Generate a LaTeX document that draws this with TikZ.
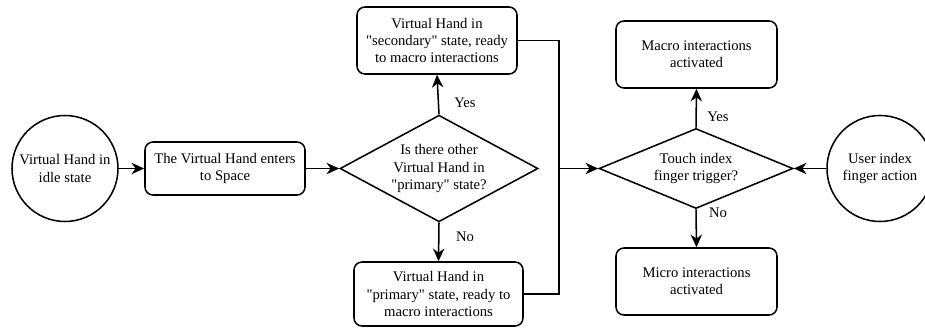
\documentclass[tikz,border=0pt]{standalone}
\usepackage{fontspec}
\newfontfamily\diagserif{Liberation Serif}
\usetikzlibrary{arrows.meta}
\usetikzlibrary{shapes.geometric}
\tikzset{blk/.style = {draw, rounded corners = 6pt, align = center, inner sep = 0, minimum width = 120pt, minimum height = 50pt}}
\tikzset{dec/.style = {draw, diamond, align = center, inner sep = 0}}
\tikzset{endpt/.style = {draw, circle, align = center, inner sep = 0, minimum size = 79.5pt}}
\tikzset{flow/.style = {-{Stealth[length = 9.5pt, width = 8.5pt, inset = 3pt]}}}

\begin{document}
\begin{tikzpicture}[x = 0.75pt, y = -0.75pt, line width = 1.15pt, font = \diagserif\fontsize{11}{13}\selectfont]
    \useasboundingbox (0, 0) rectangle (925, 328);

    \node [endpt] (idle) at (65, 168.5) {Virtual Hand in\\idle state};
    \node [blk, minimum height = 39.75pt] (enter) at (225, 168.5) {The Virtual Hand enters\\to Space};
    \node [dec, minimum width = 148.5pt, minimum height = 80pt, aspect = 1.85] (other) at (439, 168.5) {Is there other\\Virtual Hand in\\"primary" state?};
    \node [blk, minimum height = 50.25pt] (second) at (437, 40.5) {Virtual Hand in\\"secondary" state, ready\\to macro interactions};
    \node [blk, minimum width = 126.75pt, minimum height = 48pt] (primary) at (438.5, 294) {Virtual Hand in\\"primary" state, ready to\\macro interactions};
    \node (yesa) at (465, 103) {Yes};
    \node (noa) at (465, 237) {No};

    \coordinate (merge) at (559, 168.5);

    \node [dec, minimum width = 145.5pt, minimum height = 60pt, aspect = 2.4] (touch) at (696, 168.5) {Touch index\\finger trigger?};
    \node [blk, minimum width = 120.75pt, minimum height = 50.25pt] (macro) at (696.5, 54.5) {Macro interactions\\activated};
    \node [blk, minimum width = 120.75pt, minimum height = 50.25pt] (micro) at (696.5, 281.5) {Micro interactions\\activated};
    \node (yesb) at (718, 117) {Yes};
    \node (nob) at (718, 213) {No};
    \node [endpt] (finger) at (880, 168.5) {User index\\finger action};

    \draw [flow] (idle) -- (enter);
    \draw [flow] (enter) -- (other.west);
    \draw [flow] (other.north) -- (second.south);
    \draw [flow] (other.south) -- (primary.north);
    \draw (second.east) -| (merge);
    \draw (primary.east) -| (merge);
    \draw [flow] (merge) -- (touch.west);
    \draw [flow] (touch.north) -- (macro.south);
    \draw [flow] (touch.south) -- (micro.north);
    \draw [flow] (finger) -- (touch.east);
  \end{tikzpicture}
\end{document}
